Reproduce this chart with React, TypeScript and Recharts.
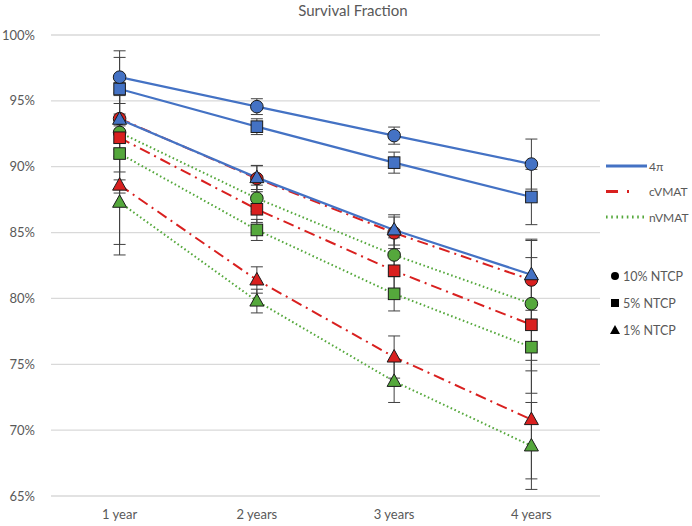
import React from "react";
import {
  LineChart,
  Line,
  XAxis,
  YAxis,
  CartesianGrid,
  ErrorBar,
} from "recharts";

if (typeof document !== "undefined") document.body.style.margin = "0";

const years = ["1 year", "2 years", "3 years", "4 years"];

// survival fraction (%) per technique and NTCP level
const pi4_10 = [96.8, 94.56, 92.36, 90.2];
const pi4_5 = [95.9, 93.04, 90.31, 87.7];
const pi4_1 = [93.6, 89.17, 85.2, 81.8];
const cv_10 = [93.65, 89.1, 84.98, 81.4];
const cv_5 = [92.2, 86.77, 82.1, 78.0];
const cv_1 = [88.6, 81.4, 75.55, 70.8];
const nv_10 = [92.6, 87.6, 83.3, 79.6];
const nv_5 = [91.0, 85.2, 80.35, 76.3];
const nv_1 = [87.3, 79.8, 73.7, 68.8];

// error bar half-widths
const pi4_10e = [2.0, 0.6, 0.65, 1.9];
const pi4_5e = [2.4, 0.6, 0.8, 2.1];
const pi4_1e = [2.8, 0.9, 1.15, 2.7];
const cv_10e = [3.0, 1.0, 1.2, 3.0];
const cv_5e = [3.2, 1.0, 1.4, 3.5];
const cv_1e = [4.5, 1.0, 1.6, 4.5];
const nv_10e = [3.0, 1.0, 1.3, 3.5];
const nv_5e = [3.0, 0.8, 1.3, 3.5];
const nv_1e = [4.0, 0.9, 1.6, 3.3];

const yTicks = [65, 70, 75, 80, 85, 90, 95, 100];

const BLUE = "#4472C4";
const RED = "#D9201F";
const GREEN = "#55A83C";
const FONT = "Lato, 'Open Sans', sans-serif";

const data = years.map((y, i) => ({
  year: y,
  pi4_10: pi4_10[i], pi4_10e: pi4_10e[i],
  pi4_5: pi4_5[i], pi4_5e: pi4_5e[i],
  pi4_1: pi4_1[i], pi4_1e: pi4_1e[i],
  cv_10: cv_10[i], cv_10e: cv_10e[i],
  cv_5: cv_5[i], cv_5e: cv_5e[i],
  cv_1: cv_1[i], cv_1e: cv_1e[i],
  nv_10: nv_10[i], nv_10e: nv_10e[i],
  nv_5: nv_5[i], nv_5e: nv_5e[i],
  nv_1: nv_1[i], nv_1e: nv_1e[i],
}));

const makeDot = (shape: string, fill: string) => (props: any) => {
  const { cx, cy, index } = props;
  const k = `${shape}-${fill}-${index}`;
  if (cx == null || cy == null) return <g key={k} />;
  if (shape === "circle")
    return <circle key={k} cx={cx} cy={cy} r={6.3} fill={fill} stroke="#1a1a1a" strokeWidth={1} />;
  if (shape === "square")
    return <rect key={k} x={cx - 5.8} y={cy - 5.8} width={11.6} height={11.6} fill={fill} stroke="#1a1a1a" strokeWidth={1} />;
  return (
    <polygon
      key={k}
      points={`${cx},${cy - 7.5} ${cx + 7},${cy + 5} ${cx - 7},${cy + 5}`}
      fill={fill}
      stroke="#1a1a1a"
      strokeWidth={1}
    />
  );
};

const series = [
  { key: "nv_1", color: GREEN, shape: "triangle", dash: "1.6 2.6" },
  { key: "nv_5", color: GREEN, shape: "square", dash: "1.6 2.6" },
  { key: "nv_10", color: GREEN, shape: "circle", dash: "1.6 2.6" },
  { key: "cv_1", color: RED, shape: "triangle", dash: "11 5 2 5" },
  { key: "cv_5", color: RED, shape: "square", dash: "11 5 2 5" },
  { key: "cv_10", color: RED, shape: "circle", dash: "11 5 2 5" },
  { key: "pi4_1", color: BLUE, shape: "triangle", dash: undefined },
  { key: "pi4_5", color: BLUE, shape: "square", dash: undefined },
  { key: "pi4_10", color: BLUE, shape: "circle", dash: undefined },
];

const lineLegend = [
  { label: "4π", color: BLUE, dash: undefined },
  { label: "cVMAT", color: RED, dash: "12 9 2 20" },
  { label: "nVMAT", color: GREEN, dash: "1.6 3.6" },
];
const markerLegend = [
  { label: "10% NTCP", shape: "circle" },
  { label: "5% NTCP", shape: "square" },
  { label: "1% NTCP", shape: "triangle" },
];

function LegendBox() {
  return (
    <svg width={92} height={200} style={{ fontFamily: FONT, fontSize: 12, display: "block" }}>
      {lineLegend.map((l, i) => (
        <g key={l.label} transform={`translate(0, ${i * 25.5})`}>
          <line x1={6} y1={6} x2={47} y2={6} stroke={l.color} strokeWidth={3} strokeDasharray={l.dash} />
          <text x={49} y={10.5} fill="#595959">{l.label}</text>
        </g>
      ))}
      {markerLegend.map((m, i) => {
        const y = 116 + i * 27;
        return (
          <g key={m.label}>
            {m.shape === "circle" && <circle cx={15} cy={y} r={4} fill="#000" />}
            {m.shape === "square" && <rect x={11} y={y - 4} width={8} height={8} fill="#000" />}
            {m.shape === "triangle" && <polygon points={`15,${y - 5} 20,${y + 4} 10,${y + 4}`} fill="#000" />}
            <text x={23} y={y + 4.5} fill="#595959" fontSize={12.5}>{m.label}</text>
          </g>
        );
      })}
    </svg>
  );
}

export default function App() {
  return (
    <div style={{ position: "relative", width: 692, height: 526, background: "#fff" }}>
      <div
        style={{
          position: "absolute",
          top: 1,
          left: 0,
          width: 692,
          textAlign: "center",
          paddingLeft: 14,
          boxSizing: "border-box",
          fontFamily: FONT,
          fontSize: 15,
          color: "#595959",
        }}
      >
        Survival Fraction
      </div>
      <LineChart
        width={692}
        height={526}
        data={data}
        margin={{ top: 35, right: 92, bottom: 0, left: 0 }}
      >
        <CartesianGrid horizontal vertical={false} stroke="#d9d9d9" strokeWidth={1.3} />
        <XAxis
          dataKey="year"
          height={30}
          axisLine={false}
          tickLine={false}
          tickSize={0}
          tickMargin={14}
          padding={{ left: 68.6, right: 68.6 }}
          tick={{ fill: "#595959", fontSize: 13, fontFamily: FONT }}
        />
        <YAxis
          type="number"
          domain={[65, 100]}
          ticks={yTicks}
          allowDataOverflow
          width={51}
          axisLine={false}
          tickLine={false}
          tickSize={0}
          tickMargin={16}
          tickFormatter={(v: number) => `${v}%`}
          tick={{ fill: "#595959", fontSize: 13, fontFamily: FONT }}
        />
        {series.map((s) => (
          <Line
            key={s.key}
            dataKey={s.key}
            stroke={s.color}
            strokeWidth={s.color === BLUE ? 2.2 : 2}
            strokeDasharray={s.dash}
            dot={makeDot(s.shape, s.color)}
            activeDot={false}
            isAnimationActive={false}
            legendType="none"
          >
            <ErrorBar dataKey={`${s.key}e`} width={6} stroke="#404040" strokeWidth={1} direction="y" />
          </Line>
        ))}
      </LineChart>
      <div style={{ position: "absolute", left: 600, top: 160 }}>
        <LegendBox />
      </div>
    </div>
  );
}
